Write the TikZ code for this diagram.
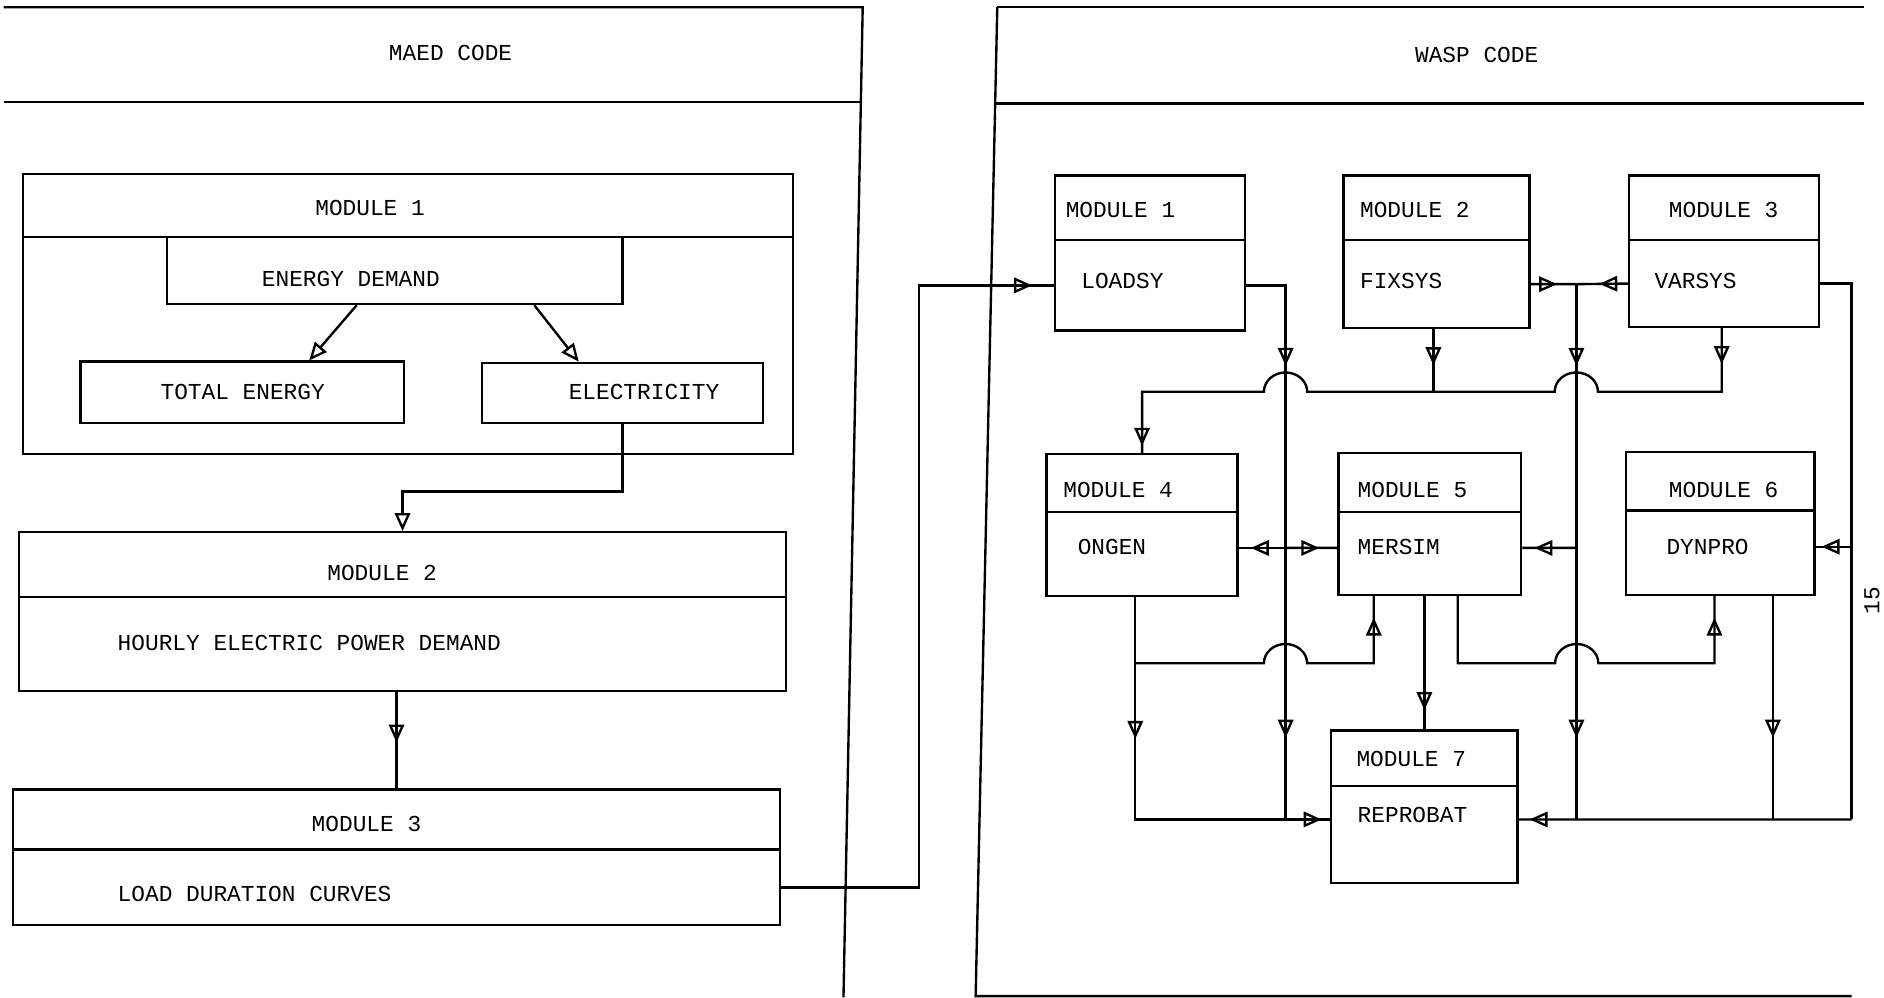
\documentclass[tikz,border=0pt]{standalone}
\usepackage{fontspec}
\setmainfont{Liberation Mono}
\usetikzlibrary{arrows.meta,decorations.markings,calc,fit}
\tikzset{
  Tr/.tip={Triangle[open, length=7.5mm, width=6.4mm, line width=2.8pt]},
  box/.style={draw, inner sep=0pt},
  lbl/.style={inner sep=0pt, font=\fontsize{27}{30}\selectfont},
  tipat/.style={postaction={decorate}, decoration={markings, mark=at position #1 with {\arrow{Tr}}}},
  tipatt/.style 2 args={postaction={decorate}, decoration={markings, mark=at position #1 with {\arrow{Tr}}, mark=at position #2 with {\arrow{Tr}}}}
}
\begin{document}
\begin{tikzpicture}[x=0.5mm, y=-0.5mm, line width=2.8pt]
\fill[white] (0,0) rectangle (1568,830.6);
\useasboundingbox (0,0) rectangle (1568,830.6);

% ---------------- MAED ----------------
\draw (3,6) -- (718,6) -- (702,830);
\draw (3,85) -- (716,85);
\node[lbl] (maed) at (375,44) {MAED CODE};

\node[box, fit={(19,145) (660,197)}] (m1h) {};
\node[box, fit={(19,197) (660,378)}] (m1) {};
\node[lbl] (tm1) at (308,173) {MODULE 1};
\node[box, fit={(139,197) (518,253)}] (ed) {};
\node[lbl] (ted) at (292,232) {ENERGY DEMAND};
\node[box, fit={(67,301) (336,352)}] (te) {};
\node[lbl] (tte) at (202,326) {TOTAL ENERGY};
\node[box, fit={(401,302) (635,352)}] (el) {};
\node[lbl] (tel) at (536,326) {ELECTRICITY};

\draw[-Tr] ($(ed.south west)!0.417!(ed.south east)$) -- ($(te.north west)!0.706!(te.north east)$);
\draw[-Tr] ($(ed.south west)!0.805!(ed.south east)$) -- ($(el.north west)!0.346!(el.north east)$);

\node[box, fit={(16,443) (654,497)}] (m2h) {};
\node[box, fit={(16,497) (654,575)}] (m2) {};
\node[lbl] (tm2) at (318,477) {MODULE 2};
\node[lbl, anchor=west] (tm2b) at (97,535) {HOURLY ELECTRIC POWER DEMAND};

\node[box, fit={(11,657) (649,707)}] (m3h) {};
\node[box, fit={(11,707) (649,770)}] (m3) {};
\node[lbl] (tm3) at (305,686) {MODULE 3};
\node[lbl, anchor=west] (tm3b) at (97,744) {LOAD DURATION CURVES};

\draw[-Tr] (el.south) |- ($(m2h.north)+(0,-33)$) -- (m2h.north);
\draw[tipat=21mm] (m2.south -| m3h.north) -- (m3h.north);

% ---------------- WASP ----------------
\draw (830,6) -- (1551,6);
\draw (830,6) -- (812,829) -- (1541,829);
\draw (828,86) -- (1551,86);
\node[lbl] (wasp) at (1229,46) {WASP CODE};

\node[box, fit={(878,146) (1036,200)}] (w1h) {};
\node[box, fit={(878,200) (1036,275)}] (w1) {};
\node[lbl, anchor=west] (tw1h) at (886,175) {MODULE 1};
\node[lbl, anchor=west] (tw1) at (899,234) {LOADSY};

\node[box, fit={(1118,146) (1273,200)}] (w2h) {};
\node[box, fit={(1118,200) (1273,273)}] (w2) {};
\node[lbl, anchor=west] (tw2h) at (1131,175) {MODULE 2};
\node[lbl, anchor=west] (tw2) at (1131,234) {FIXSYS};

\node[box, fit={(1356,146) (1514,200)}] (w3h) {};
\node[box, fit={(1356,200) (1514,272)}] (w3) {};
\node[lbl, anchor=west] (tw3h) at (1388,175) {MODULE 3};
\node[lbl, anchor=west] (tw3) at (1376,234) {VARSYS};

\node[box, fit={(871,378) (1030,426)}] (w4h) {};
\node[box, fit={(871,426) (1030,496)}] (w4) {};
\node[lbl, anchor=west] (tw4h) at (884,408) {MODULE 4};
\node[lbl, anchor=west] (tw4) at (896,455) {ONGEN};

\node[box, fit={(1114,377) (1266,426)}] (w5h) {};
\node[box, fit={(1114,426) (1266,495)}] (w5) {};
\node[lbl, anchor=west] (tw5h) at (1129,408) {MODULE 5};
\node[lbl, anchor=west] (tw5) at (1129,455) {MERSIM};

\node[box, fit={(1353,376) (1510,425)}] (w6h) {};
\node[box, fit={(1353,425) (1510,495)}] (w6) {};
\node[lbl, anchor=west] (tw6h) at (1388,408) {MODULE 6};
\node[lbl, anchor=west] (tw6) at (1386,455) {DYNPRO};

\node[box, fit={(1108,608) (1263,654)}] (w7h) {};
\node[box, fit={(1108,654) (1263,735)}] (w7) {};
\node[lbl, anchor=west] (tw7h) at (1128,632) {MODULE 7};
\node[lbl, anchor=west] (tw7) at (1129,678) {REPROBAT};

\node[lbl, rotate=90] (pg) at (1558,500) {15};

% input from MAED
\draw[tipat=-9mm] (m3.east) -| ($(w1.west)+(-112,0)$) -- (w1.west);

% LOADSY
\coordinate (jLb) at (1070,682);
\coordinate (jLm) at (1070,456);
\draw[tipatt={50mm}{-34mm}] (w1.east) -| (jLb);
\draw[tipat=-5mm] (jLm) -- ($(w4.east)+(0,-5)$);
\draw[tipat=-7.5mm] (jLm) -- ($(w5.west)+(0,-4.5)$);

% ONGEN
\coordinate (o4) at ($(w4.south west)!0.465!(w4.south east)$);
\draw[tipatt={59mm}{-3.5mm}] (o4) |- ($(w7.west)+(0,-12.5)$);
\coordinate (jO) at ($(o4)+(0,55)$);
\draw[tipat=-9mm] (jO) -- ++(107,0) arc[start angle=180, end angle=360, x radius=18, y radius=16] -| ($(w5.south west)!0.197!(w5.south east)$);

% MERSIM
\draw[tipat=-8mm] (w5.south -| w7h.north) -- (w7h.north);
\coordinate (m5r) at ($(w5.south west)!0.651!(w5.south east)$);
\draw[tipat=-9mm] (m5r) -- ++(0,56) -- ++(81,0) arc[start angle=180, end angle=360, x radius=18, y radius=16] -| ($(w6.south west)!0.471!(w6.south east)$);

% FIXSYS / VARSYS junction
\coordinate (jJ) at (1312,236.5);
\coordinate (jJm) at (1312,456);
\coordinate (jJb) at (1312,682);
\draw[tipat=11mm] (w2.east) -- (jJ);
\draw[tipat=12mm] (w3.west) -- (jJ);
\draw[tipatt={34mm}{-34mm}] (jJ) -- (jJb);
\draw[tipat=-5mm] (jJm) -- ($(w5.east)+(0,-4.5)$);

% right loop from VARSYS
\coordinate (jR) at (1541,682);
\coordinate (jRm) at (1541,455);
\draw (w3.east) -| (jR);
\draw[tipat=-2.5mm] (jRm) -- ($(w6.east)+(0,-5)$);
\draw[tipat=-4.5mm] (jR) -- ($(w7.east)+(0,-12.5)$);

% DYNPRO down
\coordinate (d6) at ($(w6.south west)!0.777!(w6.south east)$);
\draw[tipat=-34mm] (d6) -- (d6 |- jR);

% upper bus FIXSYS / VARSYS -> ONGEN
\coordinate (f2) at ($(w2.south west)!0.484!(w2.south east)$);
\coordinate (v3) at ($(w3.south west)!0.487!(w3.south east)$);
\draw[tipat=15mm] (f2) -- ++(0,52);
\draw[tipatt={15mm}{-3mm}] (v3) -- ++(0,53) -- ++(-103,0) arc[start angle=360, end angle=180, x radius=18, y radius=16] -- ++(-206,0) arc[start angle=360, end angle=180, x radius=18, y radius=16] -| (w4h.north);
\end{tikzpicture}
\end{document}
